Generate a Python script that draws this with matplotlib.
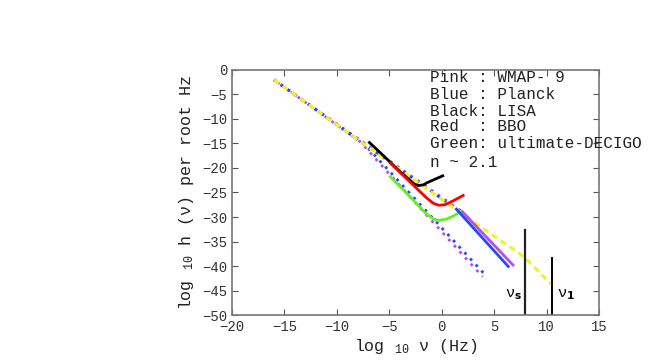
import numpy as np
import matplotlib.pyplot as plt

plt.rcParams['font.family'] = ['Liberation Mono', 'DejaVu Sans']
plt.rcParams['mathtext.fontset'] = 'custom'
plt.rcParams['mathtext.rm'] = 'Liberation Mono'
plt.rcParams['mathtext.it'] = 'Liberation Mono'

# datos (log10 nu, log10 h)
amarillo_x = [-16, -8, 0, 6, 7, 8, 9, 10.4]
amarillo_y = [-2, -14.2, -26.4, -35.4, -36.8, -38.4, -40.6, -43.7]

rosa_a_x = [-16, -7.8, 3.9]
rosa_a_y = [-2, -14.6, -42.2]
azul_a_x = [-16, -7.3, 4.1]
azul_a_y = [-2, -15.3, -41.7]

rosa_b_x = [-16, 2.0]
rosa_b_y = [-2, -29.0]
rosa_sol_x = [2.0, 6.8]
rosa_sol_y = [-29.0, -39.8]
azul_b_x = [-16, 1.4]
azul_b_y = [-2, -28.4]
azul_sol_x = [1.4, 6.35]
azul_sol_y = [-28.4, -40.1]

lisa_x = [-6.9, -5.5, -4.0, -2.6, -2.2, -1.7, -1.4, 0.1]
lisa_y = [-14.8, -17.6, -20.7, -23.3, -23.6, -23.4, -23.0, -21.6]

bbo_x = [-4.9, -3.0, -1.5, -0.8, -0.3, 0.3, 1.0, 2.05]
bbo_y = [-19.0, -22.9, -26.0, -27.2, -27.6, -27.5, -26.8, -25.6]

decigo_x = [-4.9, -3.0, -1.5, -0.8, -0.3, 0.5, 1.2, 1.9]
decigo_y = [-21.8, -25.9, -29.3, -30.4, -30.7, -30.4, -29.7, -28.8]

nu_s = 7.94
nu_s_top = -32.7
nu_1 = 10.49
nu_1_top = -38.4

leyenda = ['Pink : WMAP- 9', 'Blue : Planck', 'Black: LISA',
           'Red  : BBO', 'Green: ultimate-DECIGO', 'n ~ 2.1']
leyenda_y = [-1.6, -5.1, -8.4, -11.6, -15.1, -18.8]

rosa = '#b84cf0'
azul = '#2448ff'
amar = '#f2f21c'
verde = '#66ee22'

fig = plt.figure(figsize=(6.62, 3.63), dpi=100)
ax = fig.add_axes([0.3505, 0.1322, 0.5543, 0.6750])

punteado = (0, (1, 2))
punteado2 = (1.5, (1, 2))
ax.plot(rosa_a_x, rosa_a_y, color=rosa, lw=2, linestyle=punteado2)
ax.plot(azul_a_x, azul_a_y, color=azul, lw=2, linestyle=punteado)
ax.plot(rosa_b_x, rosa_b_y, color=rosa, lw=2, linestyle=punteado)
ax.plot(azul_b_x, azul_b_y, color=azul, lw=2, linestyle=punteado)
ax.plot(amarillo_x, amarillo_y, color=amar, lw=2.2, linestyle=(0, (2, 1.5)))
ax.plot(lisa_x, lisa_y, color='black', lw=2)
ax.plot(bbo_x, bbo_y, color='red', lw=2)
ax.plot(decigo_x, decigo_y, color=verde, lw=2)
ax.plot(rosa_sol_x, rosa_sol_y, color=rosa, lw=2)
ax.plot(azul_sol_x, azul_sol_y, color=azul, lw=2)

ax.plot([nu_s, nu_s], [-50, nu_s_top], color='#222222', lw=1.6)
ax.plot([nu_1, nu_1], [-50, nu_1_top], color='black', lw=1.4)
ax.text(6.0, -46.5, r'ν$_{\mathbf{s}}$', fontsize=11)
ax.text(11.0, -46.5, r'ν$_{\mathbf{1}}$', fontsize=11)

for t, y in zip(leyenda, leyenda_y):
    ax.text(-1.1, y, t, fontsize=11.5, va='center', clip_on=False,
            color='#222222')

ax.set_xlim(-20, 15)
ax.set_ylim(-50, 0)
ax.set_xticks(np.arange(-20, 16, 5))
ax.set_yticks(np.arange(-50, 1, 5))
ax.tick_params(direction='in', length=4, labelsize=10, top=True, right=True,
               color='#555555', labelcolor='#333333')
for s in ax.spines.values():
    s.set_color('#777777')
    s.set_linewidth(1.2)

ax.set_xlabel(r'log $_{10}$ ν (Hz)', fontsize=12, labelpad=2, color='#222222')
ax.set_ylabel(r'log $_{10}$ h (ν) per root Hz', fontsize=12, labelpad=4,
              color='#222222')

fig.savefig('out.png', dpi=100)
